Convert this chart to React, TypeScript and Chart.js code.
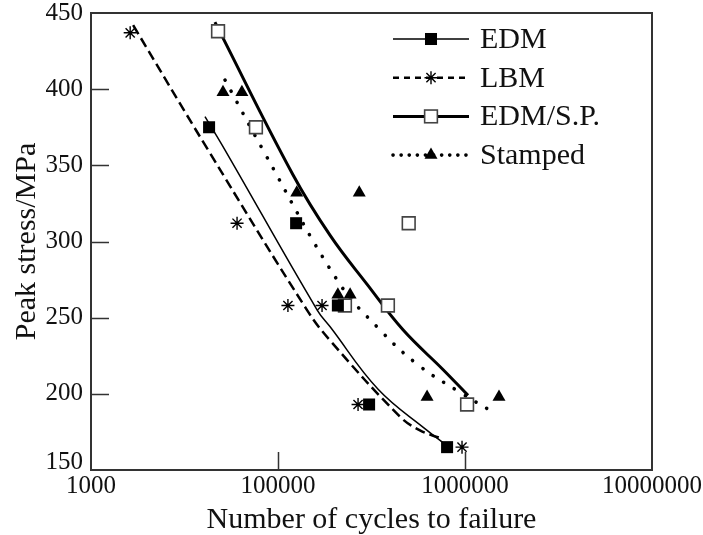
import React, { useEffect, useRef } from "react";
import { Chart, registerables } from "chart.js";

Chart.register(...registerables);

// ---------- data ----------
const seriesNames = ["EDM", "LBM", "EDM/S.P.", "Stamped"];

const edmCycles = [42800, 125000, 209000, 307000, 802000];
const edmStress = [375, 312, 258, 193, 165];

const lbmCycles = [16200, 60400, 113000, 172000, 268000, 964000];
const lbmStress = [437, 312, 258, 258, 193, 165];

const spCycles = [47800, 76200, 228000, 387000, 500000, 1026000];
const spStress = [438, 375, 258, 258, 312, 193];

const stCycles = [50800, 64100, 126000, 272000, 209000, 243000, 627000, 1520000];
const stStress = [398, 398, 332, 332, 265, 265, 198, 198];

// fitted curves
const edmFitCycles = [40700, 52100, 162000, 190000, 343000, 627000, 762000];
const edmFitStress = [382, 360, 255, 244, 203, 176, 168];

const lbmFitCycles = [16800, 42300, 143000, 190000, 449000, 574000, 735000];
const lbmFitStress = [442, 360, 255, 235, 185, 176, 171];

const spFitCycles = [46000, 120000, 190000, 299000, 466000, 762000, 1038000];
const spFitStress = [444, 344, 304, 272, 242, 216, 199];

const stFitCycles = [52100, 83200, 209000, 351000, 561000, 940000, 1413000];
const stFitStress = [406, 360, 274, 242, 219, 201, 188];

const xTickValues = [10000, 100000, 1000000, 10000000];
const xTickLabels = ["1000", "100000", "1000000", "10000000"];
const yTickValues = [150, 200, 250, 300, 350, 400, 450];

const FONT = '"Liberation Serif", "Times New Roman", serif';
const INK = "#111";

type Style = {
  point: string;
  radius: number;
  fill: string;
  stroke: string;
  pw: number;
  lineWidth: number;
  dash: number[];
  legendDash: number[];
  cap: CanvasLineCap;
};

const styles: Style[] = [
  { point: "rect", radius: 8.5, fill: "#000", stroke: "#000", pw: 0, lineWidth: 1.5, dash: [], legendDash: [], cap: "butt" },
  { point: "star", radius: 6.5, fill: "#000", stroke: "#000", pw: 1.4, lineWidth: 2.5, dash: [10, 5], legendDash: [6, 5], cap: "butt" },
  { point: "rect", radius: 9, fill: "#fff", stroke: "#444", pw: 1.6, lineWidth: 3, dash: [], legendDash: [], cap: "butt" },
  { point: "triangle", radius: 7.5, fill: "#000", stroke: "#000", pw: 0, lineWidth: 3.6, dash: [0.1, 12.5], legendDash: [0.1, 8], cap: "round" },
];

const pointSets = [
  [edmCycles, edmStress],
  [lbmCycles, lbmStress],
  [spCycles, spStress],
  [stCycles, stStress],
];
const fitSets = [
  [edmFitCycles, edmFitStress],
  [lbmFitCycles, lbmFitStress],
  [spFitCycles, spFitStress],
  [stFitCycles, stFitStress],
];

function pts(xs: number[], ys: number[]) {
  return xs.map((x, i) => ({ x, y: ys[i] }));
}

function drawMarker(ctx: CanvasRenderingContext2D, s: Style, x: number, y: number) {
  ctx.save();
  ctx.fillStyle = s.fill;
  ctx.strokeStyle = s.stroke;
  ctx.lineWidth = s.pw;
  ctx.setLineDash([]);
  if (s.point === "rect") {
    const h = Math.SQRT1_2 * s.radius;
    ctx.fillRect(x - h, y - h, 2 * h, 2 * h);
    if (s.pw > 0) ctx.strokeRect(x - h, y - h, 2 * h, 2 * h);
  } else if (s.point === "star") {
    ctx.beginPath();
    for (let k = 0; k < 4; k++) {
      const a = (k * Math.PI) / 4;
      ctx.moveTo(x - Math.cos(a) * s.radius, y - Math.sin(a) * s.radius);
      ctx.lineTo(x + Math.cos(a) * s.radius, y + Math.sin(a) * s.radius);
    }
    ctx.stroke();
  } else if (s.point === "triangle") {
    ctx.beginPath();
    for (let k = 0; k < 3; k++) {
      const a = -Math.PI / 2 + (k * 2 * Math.PI) / 3;
      const px = x + Math.cos(a) * s.radius;
      const py = y + Math.sin(a) * s.radius;
      if (k === 0) ctx.moveTo(px, py);
      else ctx.lineTo(px, py);
    }
    ctx.closePath();
    ctx.fill();
  }
  ctx.restore();
}

const framePlugin = {
  id: "frameAndTicks",
  beforeDatasetsDraw(chart: any) {
    const { ctx, chartArea, scales } = chart;
    const { left, right, top, bottom } = chartArea;
    ctx.save();
    ctx.strokeStyle = "#333";
    ctx.lineWidth = 1.5;
    ctx.beginPath();
    yTickValues.slice(1, -1).forEach((v) => {
      const py = Math.round(scales.y.getPixelForValue(v)) + 0.5;
      ctx.moveTo(left, py);
      ctx.lineTo(left + 18, py);
    });
    xTickValues.slice(1, -1).forEach((v) => {
      const px = Math.round(scales.x.getPixelForValue(v)) + 0.5;
      ctx.moveTo(px, bottom);
      ctx.lineTo(px, bottom - 18);
    });
    ctx.stroke();
    ctx.lineWidth = 2;
    ctx.strokeRect(left, top, right - left, bottom - top);

    // lowest y label sits a little above its tick, clear of the x labels
    const v0 = yTickValues[0];
    ctx.fillStyle = INK;
    ctx.font = `25px ${FONT}`;
    ctx.textAlign = "right";
    ctx.textBaseline = "middle";
    ctx.fillText(String(v0), left - 8, scales.y.getPixelForValue(v0) - 8);
    ctx.restore();
  },
  afterDraw(chart: any) {
    const { ctx, chartArea } = chart;
    const x0 = chartArea.left + 302;
    const x1 = chartArea.left + 378;
    const xm = (x0 + x1) / 2;
    const y0 = chartArea.top + 26;
    const dy = 38.7;
    seriesNames.forEach((name, i) => {
      const s = styles[i];
      const y = y0 + i * dy;
      ctx.save();
      ctx.strokeStyle = "#000";
      ctx.lineWidth = s.lineWidth;
      ctx.lineCap = s.cap;
      ctx.setLineDash(s.legendDash);
      ctx.beginPath();
      ctx.moveTo(x0, y);
      ctx.lineTo(x1, y);
      ctx.stroke();
      ctx.restore();
      drawMarker(ctx, s, xm, y);
      ctx.save();
      ctx.fillStyle = INK;
      ctx.font = `30px ${FONT}`;
      ctx.textAlign = "left";
      ctx.textBaseline = "middle";
      ctx.fillText(name, x1 + 11, y + 1);
      ctx.restore();
    });
  },
};

export default function App() {
  const ref = useRef<HTMLCanvasElement | null>(null);

  useEffect(() => {
    document.body.style.margin = "0";
    const canvas = ref.current;
    if (!canvas) return;

    const scatterSets = pointSets.map(([xs, ys], i) => {
      const s = styles[i];
      return {
        label: seriesNames[i],
        data: pts(xs, ys),
        showLine: false,
        pointStyle: s.point,
        pointRadius: s.radius,
        pointBackgroundColor: s.fill,
        pointBorderColor: s.stroke,
        pointBorderWidth: s.pw,
        pointHoverRadius: s.radius,
      };
    });
    const lineSets = fitSets.map(([xs, ys], i) => {
      const s = styles[i];
      return {
        label: seriesNames[i] + " fit",
        data: pts(xs, ys),
        showLine: true,
        pointRadius: 0,
        pointHoverRadius: 0,
        borderColor: "#000",
        borderWidth: s.lineWidth,
        borderDash: s.dash,
        borderCapStyle: s.cap,
        tension: 0.4,
        fill: false,
      };
    });

    const chart = new Chart(canvas, {
      type: "scatter",
      data: { datasets: [...scatterSets, ...lineSets] as any },
      options: {
        responsive: false,
        animation: false,
        layout: { padding: { top: 13, right: 51, bottom: 0, left: 0 } },
        plugins: { legend: { display: false }, tooltip: { enabled: false } },
        scales: {
          x: {
            type: "logarithmic",
            min: 10000,
            max: 10000000,
            afterBuildTicks: (scale: any) => {
              scale.ticks = xTickValues.map((v) => ({ value: v }));
            },
            afterFit: (scale: any) => {
              scale.height = 65;
              scale.paddingLeft = 0;
              scale.paddingRight = 0;
            },
            grid: { display: false, drawTicks: false },
            border: { display: false },
            ticks: {
              autoSkip: false,
              maxRotation: 0,
              padding: 1,
              color: INK,
              font: { family: FONT, size: 25 },
              callback: (_v: any, i: number) => xTickLabels[i],
            },
            title: {
              display: true,
              text: "Number of cycles to failure",
              color: INK,
              font: { family: FONT, size: 30, lineHeight: 1 },
              padding: { top: 0, bottom: 0 },
            },
          },
          y: {
            type: "linear",
            min: 150,
            max: 450,
            afterBuildTicks: (scale: any) => {
              scale.ticks = yTickValues.map((v) => ({ value: v }));
            },
            afterFit: (scale: any) => {
              scale.width = 91;
              scale.paddingTop = 0;
              scale.paddingBottom = 0;
            },
            grid: { display: false, drawTicks: false },
            border: { display: false },
            ticks: {
              padding: 8,
              color: INK,
              font: { family: FONT, size: 25 },
              callback: (v: any) => (v === yTickValues[0] ? "" : String(v)),
            },
            title: {
              display: true,
              text: "Peak stress/MPa",
              color: INK,
              font: { family: FONT, size: 30, lineHeight: 1 },
              padding: { top: 12, bottom: 0 },
            },
          },
        },
      } as any,
      plugins: [framePlugin],
    });

    return () => chart.destroy();
  }, []);

  return (
    <div style={{ width: 703, height: 535 }}>
      <canvas ref={ref} width={703} height={535} style={{ display: "block" }} />
    </div>
  );
}
